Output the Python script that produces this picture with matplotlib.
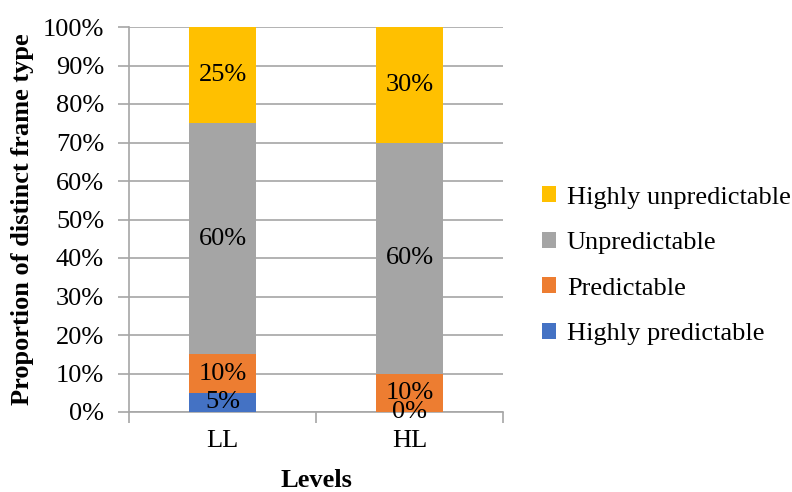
import numpy as np
import matplotlib.pyplot as plt
import matplotlib.ticker as mticker

plt.rcParams['font.family'] = ['Liberation Serif', 'DejaVu Serif']

# ----------------------------
# Data
# ----------------------------
levels = ["LL", "HL"]
series_names = ["Highly predictable", "Predictable", "Unpredictable", "Highly unpredictable"]
highly_predictable = [5, 0]
predictable = [10, 10]
unpredictable = [60, 60]
highly_unpredictable = [25, 30]
colors = ["#4472C4", "#ED7D31", "#A5A5A5", "#FFC000"]

series = [highly_predictable, predictable, unpredictable, highly_unpredictable]

# ----------------------------
# Plot
# ----------------------------
fig = plt.figure(figsize=(7.92, 4.92), dpi=100)
ax = fig.add_axes([129 / 792, 1 - 412 / 492, (503 - 129) / 792, (412 - 27) / 492])

fs = 19
x = np.arange(len(levels))
bottom = np.zeros(len(levels))
handles = []
for name, vals, col in zip(series_names, series, colors):
    vals = np.array(vals, dtype=float)
    h = ax.bar(x, vals, bottom=bottom, width=0.36, color=col, label=name, zorder=3)
    handles.append(h)
    for xi, b, v in zip(x, bottom, vals):
        ax.text(xi, b + v / 2, f"{int(v)}%", ha="center", va="center",
                fontsize=fs, color="black", zorder=4)
    bottom += vals

ax.set_xlim(-0.5, 1.5)
ax.set_ylim(0, 100)
ax.yaxis.set_major_locator(mticker.MultipleLocator(10))
ax.yaxis.set_major_formatter(mticker.FuncFormatter(lambda v, p: f"{int(v)}%"))
ax.grid(axis="y", color="#A6A6A6", linewidth=1.2, zorder=0)
ax.set_axisbelow(True)

ax.set_xticks([-0.5, 0.5, 1.5], minor=False)
ax.set_xticklabels([])
ax.set_xticks(x, minor=True)
ax.set_xticklabels(levels, minor=True)
ax.tick_params(axis="x", which="major", length=8, color="#A6A6A6", width=1.2)
ax.tick_params(axis="x", which="minor", length=0, labelsize=fs, pad=13)
ax.tick_params(axis="y", length=8, color="#A6A6A6", width=1.2, labelsize=fs, pad=10)

for side in ["top", "right"]:
    ax.spines[side].set_visible(False)
for side in ["left", "bottom"]:
    ax.spines[side].set_color("#A6A6A6")
    ax.spines[side].set_linewidth(1.2)

ax.set_ylabel("Proportion of distinct frame type", fontsize=fs, fontweight="bold", labelpad=6)
ax.set_xlabel("Levels", fontsize=fs, fontweight="bold", labelpad=12)

ax.legend(handles[::-1], series_names[::-1], loc="center left",
          bbox_to_anchor=(1.04, 0.38), frameon=False, fontsize=fs,
          handlelength=0.55, handleheight=0.55, handletextpad=0.4, labelspacing=0.88)

fig.savefig("out.png", dpi=100)
